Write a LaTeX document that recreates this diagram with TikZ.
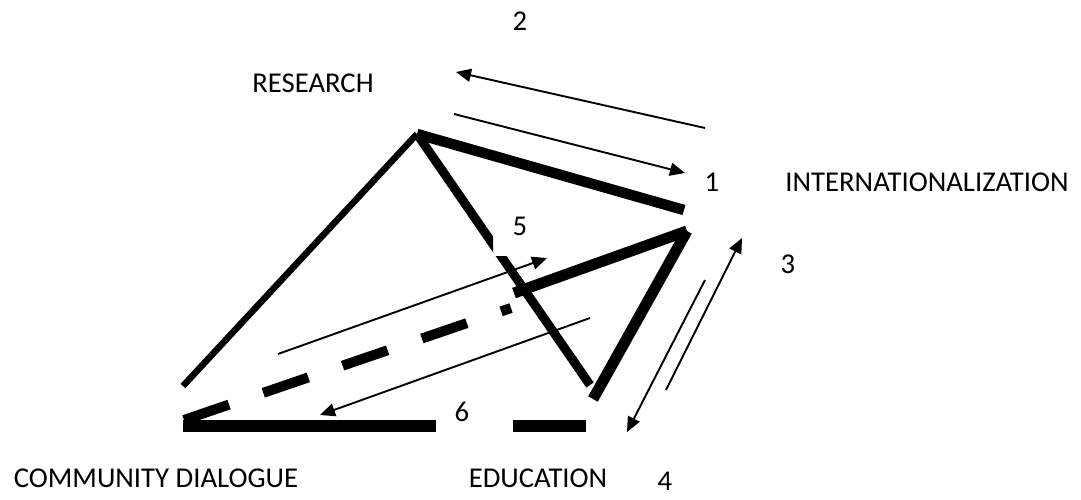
\documentclass[tikz,border=0pt]{standalone}
\usepackage{fontspec}
\setmainfont{Carlito}
\usetikzlibrary{arrows.meta}
\begin{document}
\begin{tikzpicture}[x=1pt,y=-1pt,
  lbl/.style={inner sep=0pt, font=\fontsize{28.7}{34}\selectfont},
  thin/.style={line width=1.9pt},
  thinarrow/.style={thin, -{Triangle[length=15pt,width=13pt]}},
  edgeA/.style={line width=10.5pt},
  edgeL/.style={line width=6.5pt},
  edgeM/.style={line width=9pt},
  edgeR/.style={line width=11pt},
  edgeB/.style={line width=12pt},
  edgeD/.style={line width=10pt, dash pattern=on 47.6pt off 36.2pt}]
\useasboundingbox (0,0) rectangle (1081,500);

% labels
\node[lbl] (n2) at (520,21) {2};
\node[lbl] (research) at (313,83) {RESEARCH};
\node[lbl] (n1) at (712,182) {1};
\node[lbl] (intl) at (927,182) {INTERNATIONALIZATION};
\node[lbl] (n5) at (520,226) {5};
\node[lbl] (n3) at (788,264) {3};
\node[lbl] (n6) at (462,412) {6};
\node[lbl] (community) at (156,478) {COMMUNITY DIALOGUE};
\node[lbl] (education) at (538,478) {EDUCATION};
\node[lbl] (n4) at (665,481) {4};

% points
\coordinate (apex) at (417,134);
\coordinate (topR) at (684,210);
\coordinate (leftEnd) at (183,386);
\coordinate (midEnd) at (590,385);
\coordinate (rv) at (687,231);
\coordinate (rl) at (514,293);
\coordinate (rb) at (593,399);
\coordinate (dStart) at (184,420);
\coordinate (dEnd) at (511,308);
\coordinate (b1s) at (183,426);
\coordinate (b1e) at (436,426);
\coordinate (b2s) at (513,426);
\coordinate (b2e) at (586,426);

\coordinate (a2s) at (705,128);
\coordinate (a2e) at (456,72);
\coordinate (a1s) at (454,114);
\coordinate (a1e) at (685,173);
\coordinate (a5s) at (278,354);
\coordinate (a5e) at (547,258);
\coordinate (a6s) at (590,318);
\coordinate (a6e) at (320,415);
\coordinate (a3s) at (666,390);
\coordinate (a3e) at (742,238);
\coordinate (a4s) at (705,280);
\coordinate (a4e) at (627,432);

% thick structure
\draw[edgeA] (apex) -- (topR);
\draw[edgeL] (apex) -- (leftEnd);
\begin{scope}
  \clip (0,0) rectangle (493,500);
  \draw[edgeM] (apex) -- (midEnd);
\end{scope}
\begin{scope}
  \clip (0,256) rectangle (1081,500);
  \draw[edgeM] (apex) -- (midEnd);
\end{scope}
\draw[edgeR] (rl) -- (rv);
\draw[edgeR] (rv) -- (rb);
\draw[edgeD] (dStart) -- (dEnd);
\draw[edgeB] (b1s) -- (b1e);
\draw[edgeB] (b2s) -- (b2e);

% thin arrows
\draw[thinarrow] (a2s) -- (a2e);
\draw[thinarrow] (a1s) -- (a1e);
\draw[thinarrow] (a5s) -- (a5e);
\draw[thinarrow] (a6s) -- (a6e);
\draw[thinarrow] (a3s) -- (a3e);
\draw[thinarrow] (a4s) -- (a4e);
\end{tikzpicture}
\end{document}
